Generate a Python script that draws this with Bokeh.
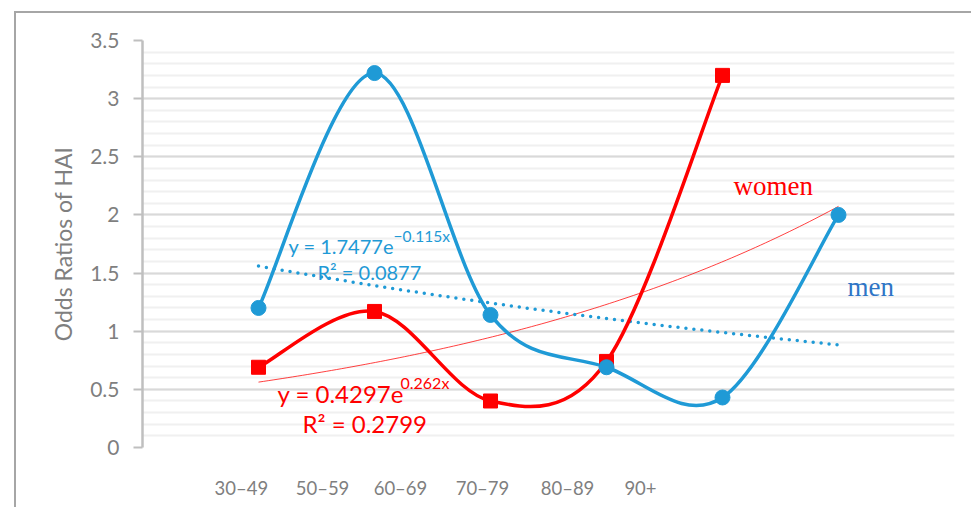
import numpy as np
from bokeh.plotting import figure
from bokeh.models import SingleIntervalTicker, FixedTicker, Range1d, ColumnDataSource
from bokeh.core.properties import value
from bokeh.embed import file_html
from bokeh.resources import INLINE

# ---------------- data ----------------
age_groups = ["30–49", "50–59", "60–69", "70–79", "80–89", "90+"]
men_or = [1.20, 3.22, 1.14, 0.69, 0.43, 2.00]
women_or = [0.69, 1.17, 0.40, 0.74, 3.20]
y_tick_values = [0, 0.5, 1, 1.5, 2, 2.5, 3, 3.5]
y_tick_labels = ["0", "0.5", "1", "1.5", "2", "2.5", "3", "3.5"]
men_eq_text = "y = 1.7477e"
men_eq_exp = "−0.115x"
men_r2_text = "R² = 0.0877"
women_eq_text = "y = 0.4297e"
women_eq_exp = "0.262x"
women_r2_text = "R² = 0.2799"
series_names = ["women", "men"]

# label positions of the x axis text (as drawn in the source, offset from points)
x_label_pos = [0.853, 1.552, 2.224, 2.931, 3.664, 4.293]

BLUE = "#1F9AD6"
RED = "#FF0000"
GRAY = "#7F7F7F"
FONT = "Lato"
BORDER = "#A6A6A6"

men_x = list(range(1, len(men_or) + 1))
women_x = list(range(1, len(women_or) + 1))


def smooth_segments(xs, ys, k=1.0 / 6.0):
    n = len(xs)
    d = dict(x0=[], y0=[], x1=[], y1=[], cx0=[], cy0=[], cx1=[], cy1=[])
    for i in range(n - 1):
        a = i - 1 if i > 0 else i
        b = i + 2 if i + 2 < n else i + 1
        d["x0"].append(xs[i]); d["y0"].append(ys[i])
        d["x1"].append(xs[i + 1]); d["y1"].append(ys[i + 1])
        d["cx0"].append(xs[i] + (xs[i + 1] - xs[a]) * k)
        d["cy0"].append(ys[i] + (ys[i + 1] - ys[a]) * k)
        d["cx1"].append(xs[i + 1] - (xs[b] - xs[i]) * k)
        d["cy1"].append(ys[i + 1] - (ys[b] - ys[i]) * k)
    return ColumnDataSource(d)


def exp_trend(xs, ys, x_end):
    slope, icpt = np.polyfit(np.array(xs, float), np.log(np.array(ys, float)), 1)
    tx = np.linspace(xs[0], x_end, 120)
    return tx, np.exp(icpt) * np.exp(slope * tx)


p = figure(
    output_backend="svg", toolbar_location=None,
    frame_width=812, frame_height=407,
    x_range=Range1d(0, 7), y_range=Range1d(0, 3.5),
    min_border_left=142, min_border_right=17, min_border_top=40, min_border_bottom=60,
    background_fill_color="white", border_fill_color=None,
)
# outer chart border: top and left edges, drawn as element background behind the canvas
p.styles = {
    "background": (
        f"linear-gradient({BORDER}, {BORDER}) 14px 11px / calc(100% - 14px) 2px no-repeat, "
        f"linear-gradient({BORDER}, {BORDER}) 14px 11px / 2px calc(100% - 11px) no-repeat, "
        "white"
    )
}
p.outline_line_color = None

# y axis / grid
yt = SingleIntervalTicker(interval=0.5, num_minor_ticks=5)
p.yaxis.ticker = yt
p.ygrid.ticker = yt
p.yaxis.major_label_overrides = {v: s for v, s in zip(y_tick_values, y_tick_labels)}
p.ygrid.grid_line_color = "#D9D9D9"
p.ygrid.grid_line_width = 2
p.ygrid.minor_grid_line_color = "#F0F0F0"
p.ygrid.minor_grid_line_width = 2
p.xgrid.grid_line_color = None
p.yaxis.axis_line_color = "#BFBFBF"
p.yaxis.axis_line_width = 2.5
p.yaxis.major_tick_line_color = "#BFBFBF"
p.yaxis.major_tick_line_width = 2
p.yaxis.major_tick_out = 9
p.yaxis.major_tick_in = 0
p.yaxis.minor_tick_line_color = None
p.yaxis.major_label_text_font = FONT
p.yaxis.major_label_text_font_size = "21px"
p.yaxis.major_label_text_color = GRAY
p.yaxis.major_label_standoff = 14
p.yaxis.axis_label = "Odds Ratios of HAI"
p.yaxis.axis_label_text_font = FONT
p.yaxis.axis_label_text_font_size = "23px"
p.yaxis.axis_label_text_font_style = "normal"
p.yaxis.axis_label_text_color = GRAY
p.yaxis.axis_label_standoff = 10

# x axis
p.xaxis.ticker = FixedTicker(ticks=x_label_pos)
p.xaxis.major_label_overrides = {v: s for v, s in zip(x_label_pos, age_groups)}
p.xaxis.axis_line_color = None
p.xaxis.major_tick_line_color = None
p.xaxis.minor_tick_line_color = None
p.xaxis.major_label_text_font = FONT
p.xaxis.major_label_text_font_size = "18.5px"
p.xaxis.major_label_text_color = GRAY
p.xaxis.major_label_standoff = 23

# equation texts (under the series)
def txt(x, y, s, size, color, font=FONT):
    p.text(x=[x], y=[y], text=[s], text_font=value(font), text_font_size=size,
           text_color=color, text_align="left", text_baseline="alphabetic")

txt(1.259, 1.737, men_eq_text, "20px", BLUE)
txt(2.164, 1.823, men_eq_exp, "15.5px", BLUE)
txt(1.509, 1.505, men_r2_text, "20px", BLUE)
txt(1.164, 0.464, women_eq_text, "24px", RED)
txt(2.224, 0.559, women_eq_exp, "16px", RED)
txt(1.379, 0.206, women_r2_text, "24px", RED)
txt(5.095, 2.253, series_names[0], "27px", RED, "Liberation Serif")
txt(6.078, 1.376, series_names[1], "27px", "#2E75C6", "Liberation Serif")

# trend lines
wtx, wty = exp_trend(women_x, women_or, len(age_groups))
p.line(wtx, wty, line_color=RED, line_width=1, line_alpha=0.75)
mtx, mty = exp_trend(men_x, men_or, len(age_groups))
p.line(mtx, mty, line_color=BLUE, line_width=3.5, line_dash="0 8", line_cap="round")

# smoothed series
p.bezier(x0="x0", y0="y0", x1="x1", y1="y1", cx0="cx0", cy0="cy0", cx1="cx1", cy1="cy1",
         source=smooth_segments(women_x, women_or), line_color=RED, line_width=3.5,
         line_cap="round")
p.bezier(x0="x0", y0="y0", x1="x1", y1="y1", cx0="cx0", cy0="cy0", cx1="cx1", cy1="cy1",
         source=smooth_segments(men_x, men_or), line_color=BLUE, line_width=3.5,
         line_cap="round")
p.scatter(women_x, women_or, marker="square", size=14, fill_color=RED, line_color=RED)
p.scatter(men_x, men_or, marker="circle", size=15, fill_color=BLUE, line_color=BLUE)

open("out.html", "w").write(file_html(p, INLINE))
